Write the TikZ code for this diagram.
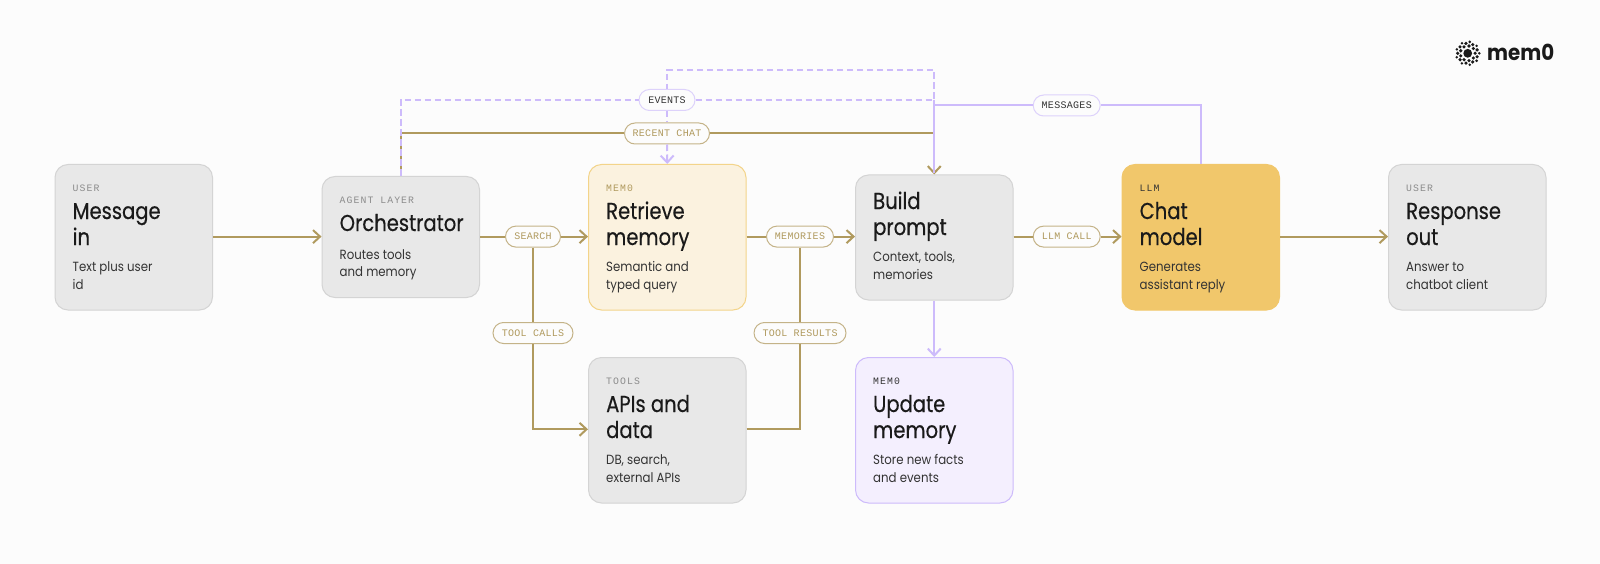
\documentclass[tikz,border=0pt]{standalone}
\usepackage{fontspec}
\setmainfont{Poppins}
\newfontfamily\titlefont[FakeStretch=0.85,FakeBold=0.4]{Poppins}
\newfontfamily\bodyfont[FakeStretch=0.885]{Poppins}
\newfontfamily\monofont[LetterSpace=3]{Liberation Mono}
\newfontfamily\labfont[LetterSpace=11]{Liberation Mono}
\newfontfamily\logofont[FakeStretch=0.9]{Poppins}
\usetikzlibrary{arrows.meta,calc}
\definecolor{bgc}{HTML}{FCFCFC}
\definecolor{tan}{HTML}{B09A5E}
\definecolor{tanlt}{HTML}{C4B388}
\definecolor{purp}{HTML}{CDBBFB}
\definecolor{purplt}{HTML}{DDD2FB}
\definecolor{greyfill}{HTML}{E8E8E8}
\definecolor{greyline}{HTML}{D4D4D4}
\definecolor{memfill}{HTML}{FBF2DF}
\definecolor{memline}{HTML}{F3D48A}
\definecolor{llmfill}{HTML}{F1C76B}
\definecolor{updfill}{HTML}{F4EFFE}
\definecolor{updline}{HTML}{CDBBFB}
\definecolor{ink}{HTML}{1A1A1A}
\definecolor{sub}{HTML}{333333}
\tikzset{
 x=1pt,y=-1pt,
 card/.style={rounded corners=13pt,line width=1pt,draw=greyline,fill=greyfill,minimum width=157.5pt,anchor=north west,inner sep=0pt},
 cardmem/.style={card,fill=memfill,draw=memline},
 cardllm/.style={card,fill=llmfill,draw=llmfill},
 cardupd/.style={card,fill=updfill,draw=updline},
 pilltan/.style={rounded corners=10.5pt,draw=tanlt,fill=bgc,line width=1pt,minimum height=21pt,inner sep=0pt,text=tan,font=\monofont\fontsize{10}{11}\selectfont},
 pillpur/.style={pilltan,draw=purplt,text=sub},
 tanline/.style={draw=tan,line width=2pt},
 purline/.style={draw=purp,line width=2pt},
 purdash/.style={purline,dash pattern=on 6.5pt off 3.5pt},
 tip/.style={-{Straight Barb[length=7pt,width=13pt,line width=2pt]}},
 lab/.style={anchor=base west,inner sep=0pt,font=\labfont\fontsize{9.8}{11}\selectfont},
 ttl/.style={anchor=base west,inner sep=0pt,text=ink,font=\titlefont\fontsize{23}{27}\selectfont},
 txt/.style={anchor=base west,inner sep=0pt,text=sub,font=\bodyfont\fontsize{13.3}{18}\selectfont},
}
\begin{document}
\begin{tikzpicture}
\useasboundingbox (0,0) rectangle (1600,564);
\fill[bgc] (0,0) rectangle (1600,564);

% cards
\node[card,minimum height=145.5pt] (msg) at (54.5,164) {};
\node[card,minimum height=121pt] (orch) at (321.5,176) {};
\node[cardmem,minimum height=145.5pt] (ret) at (588,164) {};
\node[card,minimum height=145.5pt] (tools) at (588,357) {};
\node[card,minimum height=125pt] (build) at (855,174.5) {};
\node[cardupd,minimum height=145.5pt] (upd) at (855,357) {};
\node[cardllm,minimum height=145.5pt] (chat) at (1121.5,164) {};
\node[card,minimum height=145.5pt] (resp) at (1388,164) {};

% pills
\node[pillpur,minimum width=56pt] (ev) at (667,100) {EVENTS};
\node[pilltan,minimum width=85pt] (rc) at (667,133.5) {RECENT CHAT};
\node[pillpur,minimum width=67pt] (ms) at (1066.7,105.5) {MESSAGES};
\node[pilltan,minimum width=55pt] (se) at (533,236.6) {SEARCH};
\node[pilltan,minimum width=67pt] (me) at (800,236.6) {MEMORIES};
\node[pilltan,minimum width=67pt] (ll) at (1066.7,236.6) {LLM CALL};
\node[pilltan,minimum width=80pt] (tc) at (533,333) {TOOL CALLS};
\node[pilltan,minimum width=92pt] (tr) at (800,333) {TOOL RESULTS};

% junctions
\coordinate (orchtop) at (orch.north);
\coordinate (buildtop) at (build.north);
\coordinate (chattop) at (chat.north);
\coordinate (rettop) at (ret.north);
\coordinate (corner) at (buildtop |- ev);
\coordinate (uptop) at (buildtop |- 0,70);
\coordinate (upev) at (ev.north |- 0,70);
\coordinate (mscorner) at (buildtop |- ms);

% connectors
\draw[tanline,tip] (msg.east |- 0,236.6) -- (orch.west |- 0,236.6);
\draw[tanline] (orch.east |- se) -- (se.west);
\draw[tanline,tip] (se.east) -- (ret.west |- se);
\draw[tanline] (ret.east |- me) -- (me.west);
\draw[tanline,tip] (me.east) -- (build.west |- me);
\draw[tanline] (build.east |- ll) -- (ll.west);
\draw[tanline,tip] (ll.east) -- (chat.west |- ll);
\draw[tanline,tip] (chat.east |- ll) -- (resp.west |- ll);
\draw[tanline] (se.south) -- (tc.north);
\draw[tanline,tip] (tc.south) |- (tools.west |- 0,429.3);
\draw[tanline] (tools.east |- 0,429.3) -| (tr.south);
\draw[tanline] (tr.north) -- (me.south);
\draw[tanline] (orchtop) |- (rc.west);
\draw[tanline,tip] (rc.east) -| (buildtop);
\draw[purdash] (orchtop) |- (ev.west);
\draw[purdash] (ev.east) -- (corner) -- (uptop) -- (upev) -- (ev.north);
\draw[purdash] (ev.south) -- (rc.north);
\draw[purdash,tip] (rc.south) -- (rettop);
\draw[purdash] (corner) -- (mscorner);
\draw[purline] (chattop) |- (ms.east);
\draw[purline] (ms.west) -| ($(buildtop)+(0,-1)$);
\draw[purline,tip] (build.south) -- (upd.north);

% msg
\node[lab,text=black!45] at (72.5,192) {USER};
\node[ttl] at (72.5,219) {Message};
\node[ttl] at (72.5,245) {in};
\node[txt] at (72.5,271) {Text plus user};
\node[txt] at (72.5,289) {id};
% orch
\node[lab,text=black!45] at (339.5,204) {AGENT LAYER};
\node[ttl] at (339.5,231) {Orchestrator};
\node[txt] at (339.5,259) {Routes tools};
\node[txt] at (339.5,276.5) {and memory};
% ret
\node[lab,text=tan] at (606,192) {MEM0};
\node[ttl] at (606,219) {Retrieve};
\node[ttl] at (606,245) {memory};
\node[txt] at (606,271) {Semantic and};
\node[txt] at (606,289) {typed query};
% tools
\node[lab,text=black!45] at (606,384.5) {TOOLS};
\node[ttl] at (606,412) {APIs and};
\node[ttl] at (606,438) {data};
\node[txt] at (606,464) {DB, search,};
\node[txt] at (606,482) {external APIs};
% build
\node[ttl] at (873,209) {Build};
\node[ttl] at (873,235) {prompt};
\node[txt] at (873,261) {Context, tools,};
\node[txt] at (873,279) {memories};
% upd
\node[lab,text=sub] at (873,384.5) {MEM0};
\node[ttl] at (873,412) {Update};
\node[ttl] at (873,438) {memory};
\node[txt] at (873,464) {Store new facts};
\node[txt] at (873,482) {and events};
% chat
\node[lab,text=sub] at (1139.5,192) {LLM};
\node[ttl] at (1139.5,219) {Chat};
\node[ttl] at (1139.5,245) {model};
\node[txt] at (1139.5,271) {Generates};
\node[txt] at (1139.5,289) {assistant reply};
% resp
\node[lab,text=black!45] at (1406,192) {USER};
\node[ttl] at (1406,219) {Response};
\node[ttl] at (1406,245) {out};
\node[txt] at (1406,271) {Answer to};
\node[txt] at (1406,289) {chatbot client};

% logo
\coordinate (lc) at (1467.7,53.3);
\fill[ink] (lc) circle (4.4pt);
\foreach \a in {0,40,...,320} \fill[ink] ($(lc)+(\a:7.4)$) circle (1.8pt);
\foreach \a in {20,60,...,340} \fill[ink] ($(lc)+(\a:10)$) circle (1.8pt);
\foreach \a in {0,40,...,320} \fill[ink] ($(lc)+(\a:11.6)$) circle (1.4pt);
\node[anchor=base west,inner sep=0pt,text=ink,font=\logofont\bfseries\fontsize{22}{26}\selectfont] (logo) at (1487,61) {mem0};
\end{tikzpicture}
\end{document}
